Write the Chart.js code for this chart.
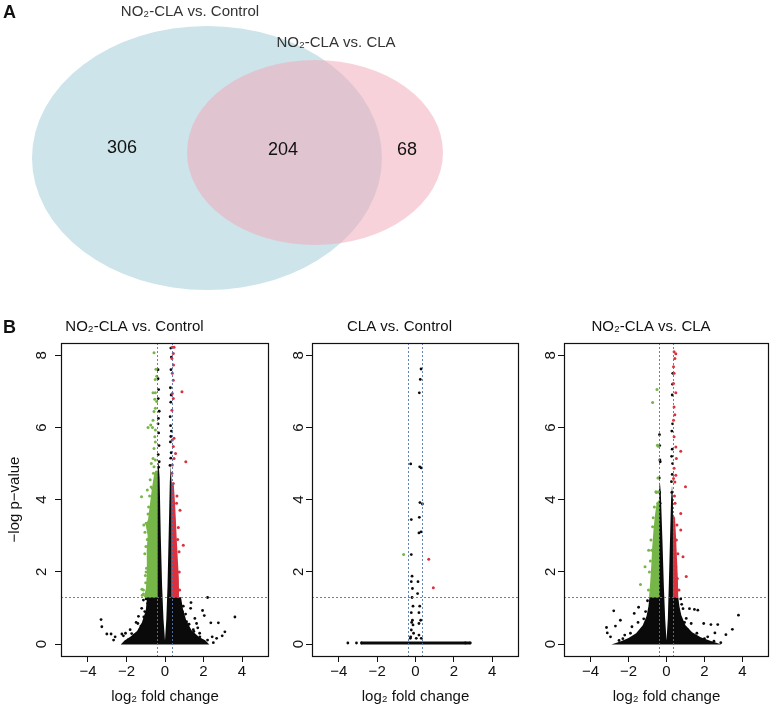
<!DOCTYPE html>
<html>
<head>
<meta charset="utf-8">
<script src="https://cdn.jsdelivr.net/npm/chart.js@4.4.1/dist/chart.umd.min.js"></script>
<style>
  body { margin: 0; background: #fff; }
  #page { position: relative; width: 773px; height: 708px; font-family: "Liberation Sans", Arial, sans-serif; }
  canvas { position: absolute; }
  .tag { position: absolute; font-weight: bold; font-size: 18px; line-height: 18px; color: #111; }
</style>
</head>
<body>
<div id="page">
  <canvas id="venn" width="773" height="300" style="left:0;top:0"></canvas>
  <canvas id="v1" width="280" height="398" style="left:0;top:310px"></canvas>
  <canvas id="v2" width="250" height="398" style="left:280px;top:310px"></canvas>
  <canvas id="v3" width="243" height="398" style="left:530px;top:310px"></canvas>
  <div class="tag" style="left:3px;top:3px">A</div>
  <div class="tag" style="left:3px;top:318px">B</div>
</div>
<script>
// ---- Venn (panel A)
const vennSets = ['NO\u2082-CLA vs. Control', 'NO\u2082-CLA vs. CLA'];
const vennCounts = [306, 204, 68];

// ---- volcano axes
const xTicks = [-4, -2, 0, 2, 4];
const yTicks = [0, 2, 4, 6, 8];
const fcCut = [-0.39, 0.34];
const pCut = 1.301;
const panelTitles = ['NO\u2082-CLA vs. Control', 'CLA vs. Control', 'NO\u2082-CLA vs. CLA'];

// ---- NO2-CLA vs. Control
const p1Green = [[-0.57,8.07],[-0.47,7.61],[-0.43,7.42],[-0.51,7.33],[-0.5,6.96],[-0.62,6.96],[-0.53,6.78],[-0.43,6.72],
  [-0.5,6.53],[-0.57,6.44],[-0.62,6.2],[-0.74,6.07],[-0.88,6.0],[-0.65,6.0],[-0.5,5.93],[-0.53,5.74],[-0.5,5.6],
  [-0.57,5.42],[-0.62,5.14],[-0.5,5.1],[-0.71,5.0],[-0.57,4.91],[-0.6,4.73],[-0.45,4.77],[-0.77,4.55],[-0.65,4.31],
  [-1.22,4.08],[-0.57,4.2],[-1.18,1.35],[-1.12,1.5],[-1.0,1.7],[-1.05,2.5],[-1.1,3.3],[-0.98,3.35],[-0.92,2.9],
  [-0.96,2.1],[-0.85,3.8],[-0.8,4.1],[-0.92,4.27],[-0.98,2.0],[-1.2,1.52],[-1.12,1.39],[-1.02,1.9],[-0.99,2.7],
  [-1.04,3.1],[-0.88,3.6],[-0.72,4.35]];
const p1Red = [[0.38,8.22],[0.47,8.22],[0.43,8.05],[0.36,7.91],[0.44,7.73],[0.38,7.5],[0.43,7.31],[0.88,6.99],
  [0.38,6.94],[0.43,6.8],[0.36,6.48],[0.47,5.7],[0.38,5.65],[0.43,5.47],[0.55,5.28],[0.47,5.14],[1.08,5.05],
  [0.38,4.96],[0.36,4.73],[0.43,4.45],[0.69,3.23],[0.95,2.74],[0.73,2.56],[0.78,3.71],[0.59,2.05],[0.62,4.1],
  [0.76,1.5],[0.74,2.0],[0.66,2.9],[0.6,3.9]];
const p1Black = [[-0.36,7.6],[-0.33,7.05],[-0.35,6.8],[-0.3,6.45],[-0.36,6.1],[-0.33,5.85],[-0.31,5.5],[-0.35,5.25],
  [-0.3,5.05],[-0.33,4.9],[-0.36,7.35],[-0.34,6.25],[0.3,8.2],[0.33,7.95],[0.28,7.1],[0.32,6.9],[0.3,6.7],[0.27,6.3],
  [0.33,5.9],[0.3,5.75],[0.28,5.6],[0.32,5.3],[0.3,5.15],[0.26,4.95],[0.31,7.6],[0.29,6.05],
  [-3.32,0.68],[-3.28,0.48],[-3.02,0.28],[-2.8,0.28],[-2.59,0.2],[-2.67,0.11],[-2.24,0.28],[-2.16,0.23],[-1.81,0.4],
  [-1.73,0.29],[-1.41,0.57],[-1.38,0.77],[-1.12,1.22],[-1.21,0.99],[-0.9,1.13],[1.35,1.15],[1.33,0.99],[1.07,0.83],
  [0.87,0.71],[1.12,0.62],[1.55,0.71],[1.64,0.57],[1.95,0.93],[2.04,0.79],[2.21,1.29],[2.38,0.59],[2.77,0.59],
  [3.63,0.75],[3.11,0.34],[2.97,0.23],[2.68,0.16],[2.51,0.04],[2.21,0.11],[1.81,0.2],[1.47,0.4],
  [-1.9,0.12],[-1.6,0.25],[-1.3,0.4],[-1.0,0.6],[-0.9,0.85],[1.0,0.5],[1.2,0.3],[1.6,0.15],[1.9,0.06],[-2.0,0.05],
  [2.0,0.08],[-1.5,0.6],[-1.7,0.15],[1.5,0.35],[1.8,0.3],[0.95,1.05],[-1.05,0.9],[-1.25,0.5],
  [-1.1,0.75],[-1.35,0.3],[-2.05,0.3],[1.25,0.55],[1.7,0.45],[2.45,0.2],[0.9,0.9],[-0.98,1.25]];
const p1BlackCore = [[-2.3,-0.01],[-2.1,0.1],[-1.8,0.2],[-1.45,0.36],[-1.2,0.6],[-1.0,0.92],[-0.93,1.3],[-0.39,1.3],
  [-0.39,4.75],[-0.34,5.1],[-0.28,4.6],[-0.22,3.0],[-0.15,1.6],[-0.08,0.7],[0.0,0.1],[0.07,0.7],[0.13,1.6],[0.19,3.0],
  [0.25,4.5],[0.3,4.95],[0.34,4.5],[0.34,1.3],[0.83,1.3],[0.93,0.98],[1.1,0.66],[1.38,0.38],[1.75,0.2],[2.1,0.1],[2.3,-0.01]];
const p1GreenCore = [[-0.39,1.3],[-1.1,1.3],[-0.99,1.55],[-0.94,2.0],[-0.95,2.6],[-0.9,3.0],[-1.0,3.3],[-0.88,3.45],
  [-0.8,3.8],[-0.73,4.1],[-0.64,4.45],[-0.55,4.75],[-0.39,4.8]];
const p1RedCore = [[0.34,1.3],[0.73,1.3],[0.72,1.8],[0.67,2.3],[0.61,2.9],[0.56,3.5],[0.51,4.0],[0.46,4.4],[0.34,4.5]];

// ---- CLA vs. Control
const p2Green = [[-0.62,2.48]];
const p2Red = [[0.69,2.35],[0.93,1.56]];
const p2Black = [[0.29,7.62],[0.25,7.33],[0.2,6.96],[-0.25,4.99],[0.22,4.91],[0.3,4.88],[0.23,3.92],[0.36,3.88],
  [-0.22,3.45],[0.2,3.51],[0.18,3.08],[0.29,3.11],[-0.22,2.48],[-0.18,1.88],[-0.22,1.73],[0.13,1.73],[0.11,1.4],
  [-0.16,1.54],[-0.18,1.29],[-0.13,1.05],[0.22,1.05],[-0.22,0.87],[0.18,0.87],[-0.16,0.66],[0.27,0.66],[-0.13,0.53],
  [0.18,0.57],[-0.22,0.39],[-0.1,0.3],[0.18,0.25],[-0.27,0.16],[0.04,0.16],[0.3,0.16],[-0.2,0.6],[-0.25,0.2],
  [-3.53,0.03],[-3.08,0.03],[-2.82,0.03],[2.86,0.03],[2.6,0.03]];
const p2BlackCore = [[-2.85,-0.01],[2.86,-0.01],[2.86,0.07],[-2.85,0.07]];

// ---- NO2-CLA vs. CLA
const p3Green = [[-0.5,7.05],[-0.73,6.69],[-0.48,5.51],[-0.43,5.48],[-0.53,4.2],[-0.43,4.22],[-0.56,4.22],[-0.64,3.8],
  [-0.73,3.25],[-1.13,2.14],[-1.37,1.65],[-0.94,2.6],[-0.82,2.88],[-0.95,1.5],[-0.9,2.0],[-0.85,2.3],[-0.45,4.6],
  [-0.46,3.9],[-0.7,3.5],[-0.78,2.6]];
const p3Red = [[0.4,8.1],[0.49,8.04],[0.44,7.91],[0.37,7.68],[0.4,7.5],[0.37,7.22],[0.49,6.96],[0.4,6.57],[0.44,6.35],
  [0.37,6.2],[0.4,5.74],[0.49,5.46],[0.75,5.34],[0.52,5.14],[0.4,4.87],[0.49,4.68],[0.37,4.59],[1.0,4.36],[0.44,4.49],
  [0.75,3.62],[0.75,3.16],[0.52,2.88],[0.87,2.42],[1.04,1.87],[0.57,1.82],[0.49,2.14],[0.45,3.9],[0.42,4.1],
  [0.6,2.5],[0.55,3.3],[0.66,1.5]];
const p3Black = [[-0.37,5.8],[-0.36,5.5],[-0.35,5.1],[-0.33,5.05],[-0.38,4.6],[-0.36,4.2],[-0.34,3.9],
  [0.3,6.9],[0.32,6.1],[0.28,5.9],[0.3,5.4],[0.27,5.2],[0.32,5.0],[0.3,4.7],[0.26,4.5],[0.28,4.2],[0.32,7.2],[0.33,7.5],
  [-2.78,0.92],[-2.43,0.66],[-3.16,0.46],[-2.69,0.5],[-3.12,0.31],[-2.95,0.2],[-1.7,0.85],[-1.47,1.02],[-1.82,0.48],
  [-1.3,0.39],[0.87,0.98],[1.21,0.98],[1.47,0.96],[1.65,0.94],[1.04,0.71],[1.3,0.57],[1.96,0.57],[2.34,0.54],
  [2.7,0.54],[3.13,0.26],[3.47,0.41],[3.79,0.8],[2.55,0.31],[2.17,0.2],[2.86,0.04],[-2.2,0.25],[-1.9,0.3],[-1.5,0.6],
  [-1.1,0.9],[1.1,0.4],[1.6,0.3],[2.0,0.15],[-2.5,0.1],[0.8,1.1],[-1.0,1.2],[-1.2,0.7],[0.75,1.25],[0.95,0.6],
  [-2.3,0.15],[2.5,0.08]];
const p3BlackCore = [[-2.9,-0.01],[-2.4,0.08],[-2.0,0.17],[-1.6,0.3],[-1.25,0.52],[-1.05,0.78],[-0.95,1.05],[-0.9,1.3],
  [-0.39,1.3],[-0.39,4.3],[-0.35,4.5],[-0.3,4.2],[-0.21,2.8],[-0.14,1.6],[-0.07,0.7],[0,0.1],[0.07,0.7],[0.12,1.6],
  [0.18,2.8],[0.24,4.0],[0.29,4.4],[0.34,4.0],[0.34,1.3],[0.62,1.3],[0.68,1.05],[0.78,0.8],[1.0,0.52],[1.35,0.33],
  [1.8,0.19],[2.3,0.09],[2.9,-0.01]];
const p3GreenCore = [[-0.39,1.3],[-0.92,1.3],[-0.86,1.7],[-0.8,2.2],[-0.75,2.7],[-0.68,3.2],[-0.6,3.6],[-0.52,3.9],[-0.39,4.0]];
const p3RedCore = [[0.34,1.3],[0.62,1.3],[0.6,1.8],[0.55,2.4],[0.5,3.0],[0.45,3.5],[0.34,3.6]];

const GREEN = '#76b547', RED = '#d9323d', BLACK = '#0a0a0a';
const FONT = '"Liberation Sans", Arial, sans-serif';
Chart.defaults.font.family = FONT;
Chart.defaults.color = '#111';

const toXY = arr => arr.map(p => ({ x: p[0], y: p[1] }));

// venn layout, in the chart's own units (x 0..773, y 0..300 top-down)
const vennShapes = [[207, 158, 175, 132], [315, 152.5, 128, 92.5]];
const vennFills = ['rgb(205,228,234)', 'rgba(242,170,185,0.53)'];
const vennSetPos = [[190, 12], [336, 43]];
const vennCountPos = [[122, 148], [283, 150], [407, 150]];

const vennPlugin = {
  id: 'vennShapes',
  beforeDatasetsDraw(chart) {
    const { ctx, scales: { x, y } } = chart;
    vennShapes.forEach((e, i) => {
      const cx = x.getPixelForValue(e[0]), cy = y.getPixelForValue(e[1]);
      const rx = Math.abs(x.getPixelForValue(e[0] + e[2]) - cx);
      const ry = Math.abs(y.getPixelForValue(e[1] + e[3]) - cy);
      ctx.beginPath();
      ctx.ellipse(cx, cy, rx, ry, 0, 0, Math.PI * 2);
      ctx.fillStyle = vennFills[i];
      ctx.fill();
    });
  },
  afterDatasetsDraw(chart) {
    const { ctx, scales: { x, y } } = chart;
    ctx.save();
    ctx.textAlign = 'center';
    ctx.textBaseline = 'middle';
    ctx.font = '15px ' + FONT;
    ctx.fillStyle = '#333';
    vennSets.forEach((s, i) => ctx.fillText(s, x.getPixelForValue(vennSetPos[i][0]), y.getPixelForValue(vennSetPos[i][1])));
    ctx.font = '18px ' + FONT;
    ctx.fillStyle = '#111';
    chart.getDatasetMeta(0).data.forEach((pt, i) => ctx.fillText(String(vennCounts[i]), pt.x, pt.y));
    ctx.restore();
  }
};

new Chart(document.getElementById('venn'), {
  type: 'scatter',
  data: { datasets: [{ data: toXY(vennCountPos), pointRadius: 0 }] },
  options: {
    responsive: false, animation: false, devicePixelRatio: 1,
    layout: { padding: 0 },
    scales: {
      x: { display: false, min: 0, max: 773 },
      y: { display: false, min: 0, max: 300, reverse: true }
    },
    plugins: { legend: { display: false }, tooltip: { enabled: false } }
  },
  plugins: [vennPlugin]
});

// dense regions (filled outlines of the point clouds), cut-off lines, frame, rotated y labels
const decor = {
  id: 'decor',
  beforeDatasetsDraw(chart) {
    const { ctx, chartArea: a } = chart;
    ctx.save();
    ctx.beginPath();
    ctx.rect(a.left, a.top, a.right - a.left, a.bottom - a.top);
    ctx.clip();
    chart.data.datasets.forEach((ds, i) => {
      if (!ds.polyFill) return;
      const pts = chart.getDatasetMeta(i).data;
      if (!pts.length) return;
      ctx.beginPath();
      pts.forEach((p, k) => (k ? ctx.lineTo(p.x, p.y) : ctx.moveTo(p.x, p.y)));
      ctx.closePath();
      ctx.fillStyle = ds.polyFill;
      ctx.fill();
    });
    ctx.restore();
  },
  afterDatasetsDraw(chart) {
    const { ctx, chartArea: a, scales: { x, y } } = chart;
    ctx.save();
    ctx.beginPath();
    ctx.rect(a.left, a.top, a.right - a.left, a.bottom - a.top);
    ctx.clip();
    ctx.strokeStyle = 'rgba(85,115,175,0.9)';
    ctx.lineWidth = 1;
    ctx.setLineDash([2, 2]);
    ctx.beginPath();
    fcCut.forEach(v => {
      const px = Math.round(x.getPixelForValue(v)) + 0.5;
      ctx.moveTo(px, a.top); ctx.lineTo(px, a.bottom);
    });
    const py = Math.round(y.getPixelForValue(pCut)) + 0.5;
    ctx.moveTo(a.left, py); ctx.lineTo(a.right, py);
    ctx.stroke();
    ctx.restore();
  },
  afterDraw(chart, args, opts) {
    const { ctx, chartArea: a, scales: { y } } = chart;
    ctx.save();
    ctx.strokeStyle = '#111';
    ctx.lineWidth = 1.2;
    ctx.strokeRect(a.left + 0.5, a.top + 0.5, a.right - a.left - 1, a.bottom - a.top);
    ctx.font = '15px ' + FONT;
    ctx.fillStyle = '#111';
    ctx.textAlign = 'center';
    ctx.textBaseline = 'middle';
    yTicks.forEach(v => {
      ctx.save();
      ctx.translate(a.left - opts.gap, y.getPixelForValue(v));
      ctx.rotate(-Math.PI / 2);
      ctx.fillText(String(v), 0, 0);
      ctx.restore();
    });
    ctx.restore();
  }
};

function region(pts, color) {
  return { data: toXY(pts), polyFill: color, pointRadius: 0, showLine: false };
}
function dots(pts, color, r) {
  return { data: toXY(pts), backgroundColor: color, borderWidth: 0, pointRadius: r };
}

function volcano(id, title, d, yAxisW, padRight, gap, showYTitle) {
  return new Chart(document.getElementById(id), {
    type: 'scatter',
    data: {
      datasets: [
        dots(d.green, GREEN, 1.5),
        dots(d.red, RED, 1.5),
        dots(d.black, BLACK, 1.4),
        region(d.greenCore, GREEN),
        region(d.redCore, RED),
        region(d.blackCore, BLACK)
      ]
    },
    options: {
      responsive: false, animation: false, devicePixelRatio: 1,
      layout: { padding: { left: 0, right: padRight, top: 0, bottom: 0 } },
      scales: {
        x: {
          min: -5.4, max: 5.4,
          afterBuildTicks: s => { s.ticks = xTicks.map(v => ({ value: v })); },
          afterFit: s => { s.height = 52; },
          ticks: { font: { size: 15 }, padding: 1, maxRotation: 0, color: '#111',
                   callback: v => (v < 0 ? '\u2212' + Math.abs(v) : String(v)) },
          grid: { drawOnChartArea: false, drawTicks: true, tickLength: 6, color: '#111' },
          border: { display: false },
          title: { display: true, text: 'log\u2082 fold change', font: { size: 15 }, color: '#111',
                   padding: { top: 0, bottom: 2 } }
        },
        y: {
          min: -0.33, max: 8.34,
          afterBuildTicks: s => { s.ticks = yTicks.map(v => ({ value: v })); },
          afterFit: s => { s.width = yAxisW; },
          ticks: { display: false },
          grid: { drawOnChartArea: false, drawTicks: true, tickLength: 6, color: '#111' },
          border: { display: false },
          title: { display: showYTitle, text: '\u2212log p\u2212value', font: { size: 15 }, color: '#111',
                   padding: { top: 6, bottom: 0 } }
        }
      },
      plugins: {
        legend: { display: false }, tooltip: { enabled: false },
        title: { display: true, text: title, font: { size: 15, weight: 'normal' }, color: '#111',
                 padding: { top: 8, bottom: 7 } },
        decor: { gap: gap }
      }
    },
    plugins: [decor]
  });
}

volcano('v1', panelTitles[0], { green: p1Green, red: p1Red, black: p1Black, greenCore: p1GreenCore,
  redCore: p1RedCore, blackCore: p1BlackCore }, 61, 11, 19, true);
volcano('v2', panelTitles[1], { green: p2Green, red: p2Red, black: p2Black, greenCore: [],
  redCore: [], blackCore: p2BlackCore }, 32, 11, 13, false);
volcano('v3', panelTitles[2], { green: p3Green, red: p3Red, black: p3Black, greenCore: p3GreenCore,
  redCore: p3RedCore, blackCore: p3BlackCore }, 34, 1, 13, false);
</script>
</body>
</html>
